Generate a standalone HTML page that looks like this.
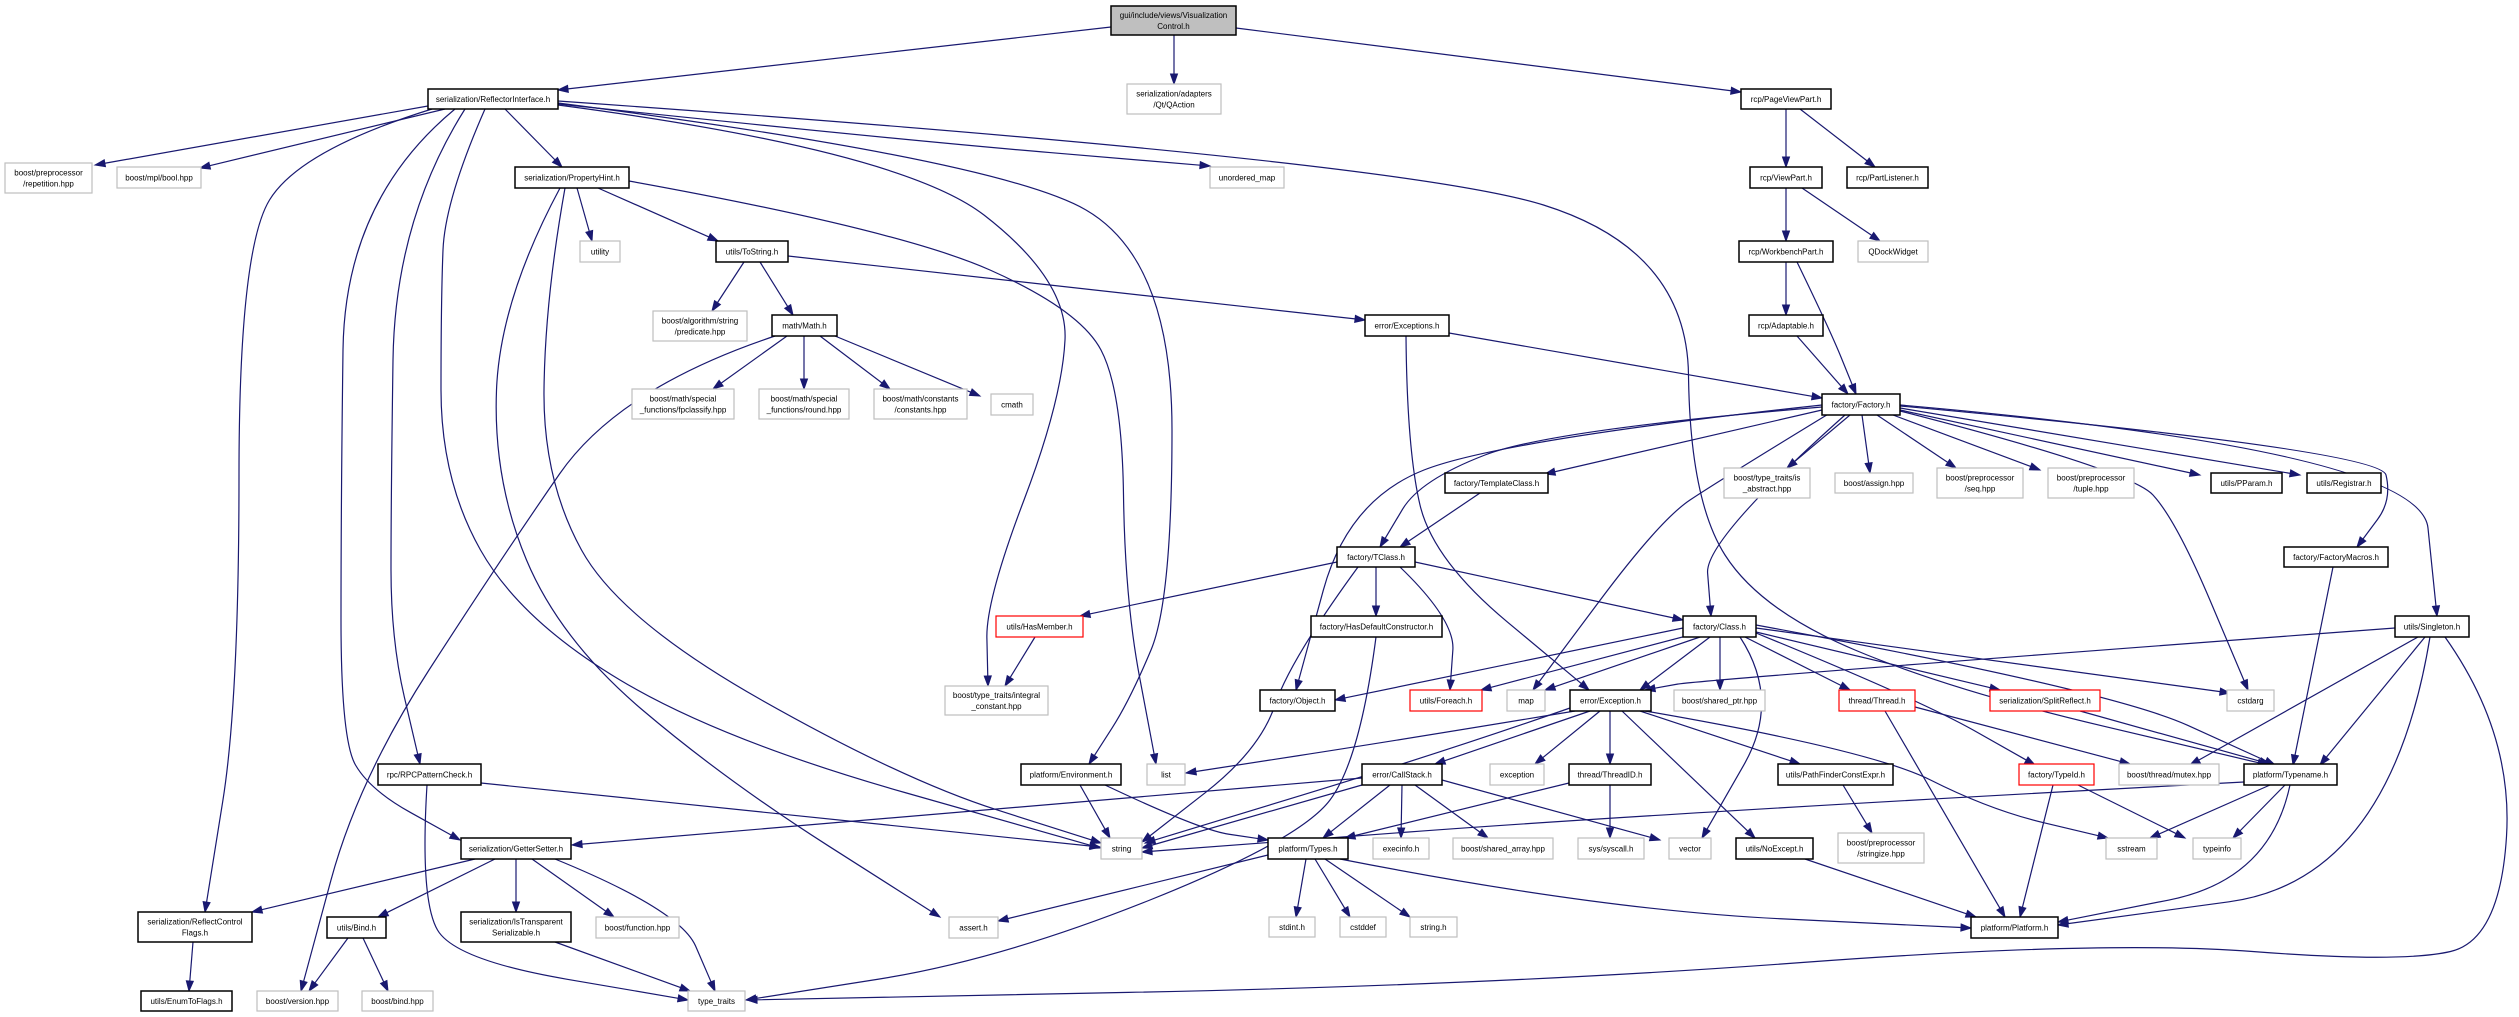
<!DOCTYPE html>
<html><head><meta charset="utf-8">
<style>
html,body{margin:0;padding:0;background:#fff;width:2519px;height:1017px;overflow:hidden}
svg{display:block}
rect.b{fill:#fff;stroke:#000;stroke-width:1.5}
rect.g{fill:#fff;stroke:#bfbfbf;stroke-width:1.2}
rect.r{fill:#fff;stroke:#ff0000;stroke-width:1.2}
rect.root{fill:#bfbfbf;stroke:#000;stroke-width:1.5}
text{font-family:"Liberation Sans",Arial,sans-serif;font-size:8px;fill:#000;text-anchor:middle}
path.e{fill:none;stroke:#191970;stroke-width:1.2}
polygon.a{fill:#191970;stroke:#191970}
</style></head><body>
<svg id="s" width="2519" height="1017" viewBox="0 0 2519 1017" xmlns="http://www.w3.org/2000/svg">
<g id="edges"></g>
<g id="nodes">
<rect class="root" x="1111" y="6" width="125" height="29"/><text x="1173.5" y="18">gui/include/views/Visualization</text><text x="1173.5" y="29">Control.h</text>
<rect class="g" x="1127" y="84" width="94" height="30"/><text x="1174" y="96.5">serialization/adapters</text><text x="1174" y="107.5">/Qt/QAction</text>
<rect class="b" x="428" y="89" width="130" height="20"/><text x="493" y="102">serialization/ReflectorInterface.h</text>
<rect class="b" x="1741" y="89" width="90" height="20"/><text x="1786" y="102">rcp/PageViewPart.h</text>
<rect class="g" x="5" y="163" width="87" height="30"/><text x="48.5" y="175.5">boost/preprocessor</text><text x="48.5" y="186.5">/repetition.hpp</text>
<rect class="g" x="117" y="167" width="84" height="21"/><text x="159" y="180.5">boost/mpl/bool.hpp</text>
<rect class="b" x="515" y="167" width="114" height="21"/><text x="572" y="180.5">serialization/PropertyHint.h</text>
<rect class="g" x="1210" y="167" width="74" height="21"/><text x="1247" y="180.5">unordered_map</text>
<rect class="b" x="1750" y="167" width="72" height="21"/><text x="1786" y="180.5">rcp/ViewPart.h</text>
<rect class="b" x="1847" y="167" width="81" height="21"/><text x="1887.5" y="180.5">rcp/PartListener.h</text>
<rect class="g" x="580" y="241" width="40" height="21"/><text x="600" y="254.5">utility</text>
<rect class="b" x="716" y="241" width="72" height="21"/><text x="752" y="254.5">utils/ToString.h</text>
<rect class="b" x="1739" y="241" width="94" height="21"/><text x="1786" y="254.5">rcp/WorkbenchPart.h</text>
<rect class="g" x="1858" y="241" width="70" height="21"/><text x="1893" y="254.5">QDockWidget</text>
<rect class="g" x="653" y="311" width="94" height="30"/><text x="700" y="323.5">boost/algorithm/string</text><text x="700" y="334.5">/predicate.hpp</text>
<rect class="b" x="772" y="315" width="65" height="21"/><text x="804.5" y="328.5">math/Math.h</text>
<rect class="b" x="1365" y="315" width="84" height="21"/><text x="1407" y="328.5">error/Exceptions.h</text>
<rect class="b" x="1749" y="315" width="74" height="21"/><text x="1786" y="328.5">rcp/Adaptable.h</text>
<rect class="g" x="632" y="389" width="102" height="30"/><text x="683" y="401.5">boost/math/special</text><text x="683" y="412.5">_functions/fpclassify.hpp</text>
<rect class="g" x="759" y="389" width="90" height="30"/><text x="804" y="401.5">boost/math/special</text><text x="804" y="412.5">_functions/round.hpp</text>
<rect class="g" x="874" y="389" width="93" height="30"/><text x="920.5" y="401.5">boost/math/constants</text><text x="920.5" y="412.5">/constants.hpp</text>
<rect class="g" x="991" y="394" width="42" height="21"/><text x="1012" y="407.5">cmath</text>
<rect class="b" x="1822" y="394" width="78" height="21"/><text x="1861" y="407.5">factory/Factory.h</text>
<rect class="b" x="1445" y="473" width="103" height="20"/><text x="1496.5" y="486">factory/TemplateClass.h</text>
<rect class="g" x="1724" y="468" width="86" height="30"/><text x="1767" y="480.5">boost/type_traits/is</text><text x="1767" y="491.5">_abstract.hpp</text>
<rect class="g" x="1835" y="473" width="78" height="20"/><text x="1874" y="486">boost/assign.hpp</text>
<rect class="g" x="1937" y="468" width="86" height="30"/><text x="1980" y="480.5">boost/preprocessor</text><text x="1980" y="491.5">/seq.hpp</text>
<rect class="g" x="2048" y="468" width="86" height="30"/><text x="2091" y="480.5">boost/preprocessor</text><text x="2091" y="491.5">/tuple.hpp</text>
<rect class="b" x="2211" y="473" width="71" height="20"/><text x="2246.5" y="486">utils/PParam.h</text>
<rect class="b" x="2307" y="473" width="74" height="20"/><text x="2344" y="486">utils/Registrar.h</text>
<rect class="b" x="1337" y="547" width="78" height="20"/><text x="1376" y="560">factory/TClass.h</text>
<rect class="b" x="2284" y="547" width="104" height="20"/><text x="2336" y="560">factory/FactoryMacros.h</text>
<rect class="r" x="996" y="616" width="87" height="21"/><text x="1039.5" y="629.5">utils/HasMember.h</text>
<rect class="b" x="1311" y="616" width="131" height="21"/><text x="1376.5" y="629.5">factory/HasDefaultConstructor.h</text>
<rect class="b" x="1683" y="616" width="73" height="21"/><text x="1719.5" y="629.5">factory/Class.h</text>
<rect class="b" x="2395" y="616" width="74" height="21"/><text x="2432" y="629.5">utils/Singleton.h</text>
<rect class="g" x="945" y="686" width="103" height="29"/><text x="996.5" y="698">boost/type_traits/integral</text><text x="996.5" y="709">_constant.hpp</text>
<rect class="b" x="1260" y="690" width="75" height="21"/><text x="1297.5" y="703.5">factory/Object.h</text>
<rect class="r" x="1410" y="690" width="72" height="21"/><text x="1446" y="703.5">utils/Foreach.h</text>
<rect class="g" x="1507" y="690" width="38" height="21"/><text x="1526" y="703.5">map</text>
<rect class="b" x="1570" y="690" width="81" height="21"/><text x="1610.5" y="703.5">error/Exception.h</text>
<rect class="g" x="1674" y="690" width="91" height="21"/><text x="1719.5" y="703.5">boost/shared_ptr.hpp</text>
<rect class="r" x="1839" y="690" width="76" height="21"/><text x="1877" y="703.5">thread/Thread.h</text>
<rect class="r" x="1990" y="690" width="110" height="21"/><text x="2045" y="703.5">serialization/SplitReflect.h</text>
<rect class="g" x="2227" y="690" width="47" height="21"/><text x="2250.5" y="703.5">cstdarg</text>
<rect class="b" x="378" y="764" width="103" height="21"/><text x="429.5" y="777.5">rpc/RPCPatternCheck.h</text>
<rect class="b" x="1021" y="764" width="100" height="21"/><text x="1071" y="777.5">platform/Environment.h</text>
<rect class="g" x="1147" y="764" width="38" height="21"/><text x="1166" y="777.5">list</text>
<rect class="b" x="1362" y="764" width="80" height="21"/><text x="1402" y="777.5">error/CallStack.h</text>
<rect class="g" x="1490" y="764" width="54" height="21"/><text x="1517" y="777.5">exception</text>
<rect class="b" x="1569" y="764" width="82" height="21"/><text x="1610" y="777.5">thread/ThreadID.h</text>
<rect class="b" x="1778" y="764" width="115" height="21"/><text x="1835.5" y="777.5">utils/PathFinderConstExpr.h</text>
<rect class="r" x="2019" y="764" width="75" height="21"/><text x="2056.5" y="777.5">factory/TypeId.h</text>
<rect class="g" x="2119" y="764" width="100" height="21"/><text x="2169" y="777.5">boost/thread/mutex.hpp</text>
<rect class="b" x="2244" y="764" width="93" height="21"/><text x="2290.5" y="777.5">platform/Typename.h</text>
<rect class="b" x="461" y="838" width="110" height="21"/><text x="516" y="851.5">serialization/GetterSetter.h</text>
<rect class="g" x="1101" y="838" width="41" height="21"/><text x="1121.5" y="851.5">string</text>
<rect class="b" x="1268" y="838" width="80" height="21"/><text x="1308" y="851.5">platform/Types.h</text>
<rect class="g" x="1373" y="838" width="56" height="21"/><text x="1401" y="851.5">execinfo.h</text>
<rect class="g" x="1453" y="838" width="100" height="21"/><text x="1503" y="851.5">boost/shared_array.hpp</text>
<rect class="g" x="1578" y="838" width="66" height="21"/><text x="1611" y="851.5">sys/syscall.h</text>
<rect class="g" x="1669" y="838" width="42" height="21"/><text x="1690" y="851.5">vector</text>
<rect class="b" x="1736" y="838" width="77" height="21"/><text x="1774.5" y="851.5">utils/NoExcept.h</text>
<rect class="g" x="1838" y="833" width="86" height="30"/><text x="1881" y="845.5">boost/preprocessor</text><text x="1881" y="856.5">/stringize.hpp</text>
<rect class="g" x="2106" y="838" width="51" height="21"/><text x="2131.5" y="851.5">sstream</text>
<rect class="g" x="2193" y="838" width="48" height="21"/><text x="2217" y="851.5">typeinfo</text>
<rect class="b" x="138" y="912" width="114" height="30"/><text x="195" y="924.5">serialization/ReflectControl</text><text x="195" y="935.5">Flags.h</text>
<rect class="b" x="327" y="917" width="59" height="21"/><text x="356.5" y="930.5">utils/Bind.h</text>
<rect class="b" x="461" y="912" width="110" height="30"/><text x="516" y="924.5">serialization/IsTransparent</text><text x="516" y="935.5">Serializable.h</text>
<rect class="g" x="596" y="917" width="83" height="21"/><text x="637.5" y="930.5">boost/function.hpp</text>
<rect class="g" x="949" y="917" width="49" height="21"/><text x="973.5" y="930.5">assert.h</text>
<rect class="g" x="1269" y="917" width="46" height="20"/><text x="1292" y="930">stdint.h</text>
<rect class="g" x="1340" y="917" width="46" height="20"/><text x="1363" y="930">cstddef</text>
<rect class="g" x="1410" y="917" width="47" height="20"/><text x="1433.5" y="930">string.h</text>
<rect class="b" x="1971" y="917" width="87" height="21"/><text x="2014.5" y="930.5">platform/Platform.h</text>
<rect class="b" x="141" y="991" width="91" height="20"/><text x="186.5" y="1004">utils/EnumToFlags.h</text>
<rect class="g" x="257" y="991" width="81" height="20"/><text x="297.5" y="1004">boost/version.hpp</text>
<rect class="g" x="362" y="991" width="71" height="20"/><text x="397.5" y="1004">boost/bind.hpp</text>
<rect class="g" x="688" y="991" width="57" height="20"/><text x="716.5" y="1004">type_traits</text>
</g>
</svg>
<script>
(function(){
var E=[
[[1111,27],[558,90]],[[1174,35],[1174,84]],[[1236,28],[1741,92]],
[[428,106],[95,165]],[[445,109],[200,168]],[[505,109],[562,167]],
[[558,104],[900,140],[1210,166]],
[[432,109],[300,150],[239,250],[239,700],[205,912]],
[[455,109],[345,200],[341,500],[341,740],[370,790],[460,840]],
[[465,109],[395,220],[391,500],[391,640],[420,764]],
[[485,109],[445,200],[441,300],[441,480],[520,620],[720,740],[1100,848]],
[[558,105],[900,150],[1068,280],[1062,400],[986,600],[988,686]],
[[558,103],[1000,160],[1172,260],[1172,600],[1130,700],[1089,764]],
[[558,101],[1400,160],[1687,250],[1690,500],[1760,610],[1950,690],[2268,765]],
[[577,188],[592,241]],[[598,188],[718,241]],
[[629,181],[900,230],[1080,310],[1122,390],[1125,600],[1156,764]],
[[565,188],[545,300],[543,480],[620,620],[903,780],[1101,843]],
[[560,188],[500,300],[493,480],[560,640],[725,780],[940,917]],
[[744,262],[712,311]],[[760,262],[793,315]],[[788,256],[1365,320]],
[[787,336],[713,389]],[[804,336],[804,389]],[[820,336],[890,389]],[[835,336],[980,396]],
[[775,336],[619,388],[500,560],[358,780],[301,991]],
[[1449,333],[1822,398]],
[[1406,336],[1407,450],[1433,560],[1589,690]],
[[1786,109],[1786,167]],[[1800,109],[1875,167]],
[[1786,188],[1786,241]],[[1802,188],[1880,241]],
[[1786,262],[1786,315]],[[1797,262],[1830,330],[1856,394]],
[[1797,336],[1848,394]],
[[1822,410],[1545,474]],
[[1822,407],[1550,430],[1420,480],[1380,547]],
[[1480,493],[1400,547]],
[[1822,405],[1500,440],[1348,500],[1296,690]],
[[1830,413],[1720,480],[1660,520],[1533,690]],
[[1845,415],[1705,540],[1711,616]],
[[1850,415],[1787,468]],[[1862,415],[1870,473]],[[1877,415],[1956,468]],[[1893,415],[2040,470]],
[[1900,410],[2200,475]],[[1900,408],[2300,475]],
[[1900,406],[2380,450],[2392,500],[2357,547]],
[[1900,405],[2420,450],[2437,616]],
[[1900,411],[2130,470],[2176,520],[2248,690]],
[[1337,562],[1080,616]],[[1415,562],[1683,620]],[[1376,567],[1376,616]],
[[1400,567],[1455,620],[1450,690]],
[[1358,567],[1290,660],[1260,750],[1142,842]],
[[1376,637],[1360,760],[1300,840],[1000,960],[746,1000]],
[[1035,637],[1005,686]],
[[1683,628],[1335,700]],[[1690,635],[1481,690]],[[1700,637],[1545,690]],[[1710,637],[1640,690]],[[1720,637],[1720,690]],
[[1740,637],[1781,700],[1702,838]],
[[1745,637],[1850,690]],[[1756,632],[2000,690]],
[[1756,633],[1920,700],[2035,765]],
[[1756,628],[2230,693]],
[[1756,625],[2110,690],[2275,765]],
[[2395,628],[1700,680],[1645,690]],
[[2418,637],[2190,765]],[[2425,637],[2320,765]],
[[2430,637],[2390,880],[2058,925]],
[[2445,637],[2513,733],[2500,940],[2401,963],[2104,940],[1500,985],[747,1000]],
[[2333,567],[2293,765]],
[[1575,711],[1400,740],[1186,773]],
[[1590,711],[1435,764]],[[1600,711],[1535,764]],[[1610,711],[1610,764]],
[[1622,711],[1755,838]],[[1640,711],[1800,764]],
[[1645,711],[1871,750],[1990,810],[2108,838]],
[[1570,708],[1450,750],[1145,843]],
[[1362,778],[572,845]],[[1362,785],[1142,848]],
[[1390,785],[1323,838]],[[1402,785],[1401,838]],[[1415,785],[1488,838]],
[[1442,780],[1660,840]],
[[1569,783],[1345,838]],[[1610,785],[1610,838]],
[[1843,785],[1872,833]],[[1805,859],[1976,917]],
[[1915,707],[2130,764]],[[1885,711],[2005,917]],
[[2080,711],[2270,764]],
[[2053,785],[2020,917]],[[2078,785],[2185,838]],
[[2244,782],[1662,813],[1142,852]],
[[2270,785],[2150,838]],[[2285,785],[2233,838]],
[[2290,785],[2270,880],[2058,922]],
[[1080,785],[1110,838]],[[1105,785],[1200,830],[1268,840]],
[[1268,855],[998,921]],[[1306,859],[1296,917]],[[1315,859],[1350,917]],[[1325,859],[1410,917]],
[[1340,859],[1600,910],[1971,928]],
[[481,783],[1100,847]],
[[427,785],[420,900],[455,960],[688,1000]],
[[475,859],[252,912]],[[495,859],[378,917]],[[516,859],[516,912]],[[532,859],[614,917]],
[[555,859],[680,910],[715,991]],
[[193,942],[189,991]],[[348,938],[309,991]],[[363,938],[388,991]],
[[555,942],[690,991]]
];
var NS="http://www.w3.org/2000/svg",g=document.getElementById("edges");
E.forEach(function(p){
 var n=p.length,end=p[n-1],prev=p[n-2];
 var dx=end[0]-prev[0],dy=end[1]-prev[1],L=Math.sqrt(dx*dx+dy*dy)||1;dx/=L;dy/=L;
 var AL=10,AW=3.5,b=[end[0]-dx*AL,end[1]-dy*AL];
 var d="M"+p[0][0]+","+p[0][1];
 for(var i=1;i<n-1;i++){
  var m=(i<n-2)?[(p[i][0]+p[i+1][0])/2,(p[i][1]+p[i+1][1])/2]:[(p[i][0]+b[0])/2,(p[i][1]+b[1])/2];
  d+=" Q"+p[i][0]+","+p[i][1]+" "+m[0]+","+m[1];
 }
 d+=" L"+b[0]+","+b[1];
 var pa=document.createElementNS(NS,"path");pa.setAttribute("d",d);pa.setAttribute("class","e");g.appendChild(pa);
 var po=document.createElementNS(NS,"polygon");
 po.setAttribute("points",end[0]+","+end[1]+" "+(b[0]-dy*AW)+","+(b[1]+dx*AW)+" "+(b[0]+dy*AW)+","+(b[1]-dx*AW));
 po.setAttribute("class","a");g.appendChild(po);
});
var rs=document.querySelectorAll("#nodes rect");
rs.forEach(function(r){
 var w=+r.getAttribute("width"),t=r.nextElementSibling;
 while(t&&t.tagName.toLowerCase()==="text"){
  try{ if(t.getComputedTextLength()>w-8){t.setAttribute("textLength",w-8);t.setAttribute("lengthAdjust","spacingAndGlyphs");} }catch(e){}
  t=t.nextElementSibling;
 }
});
})();
</script>
</body></html>
